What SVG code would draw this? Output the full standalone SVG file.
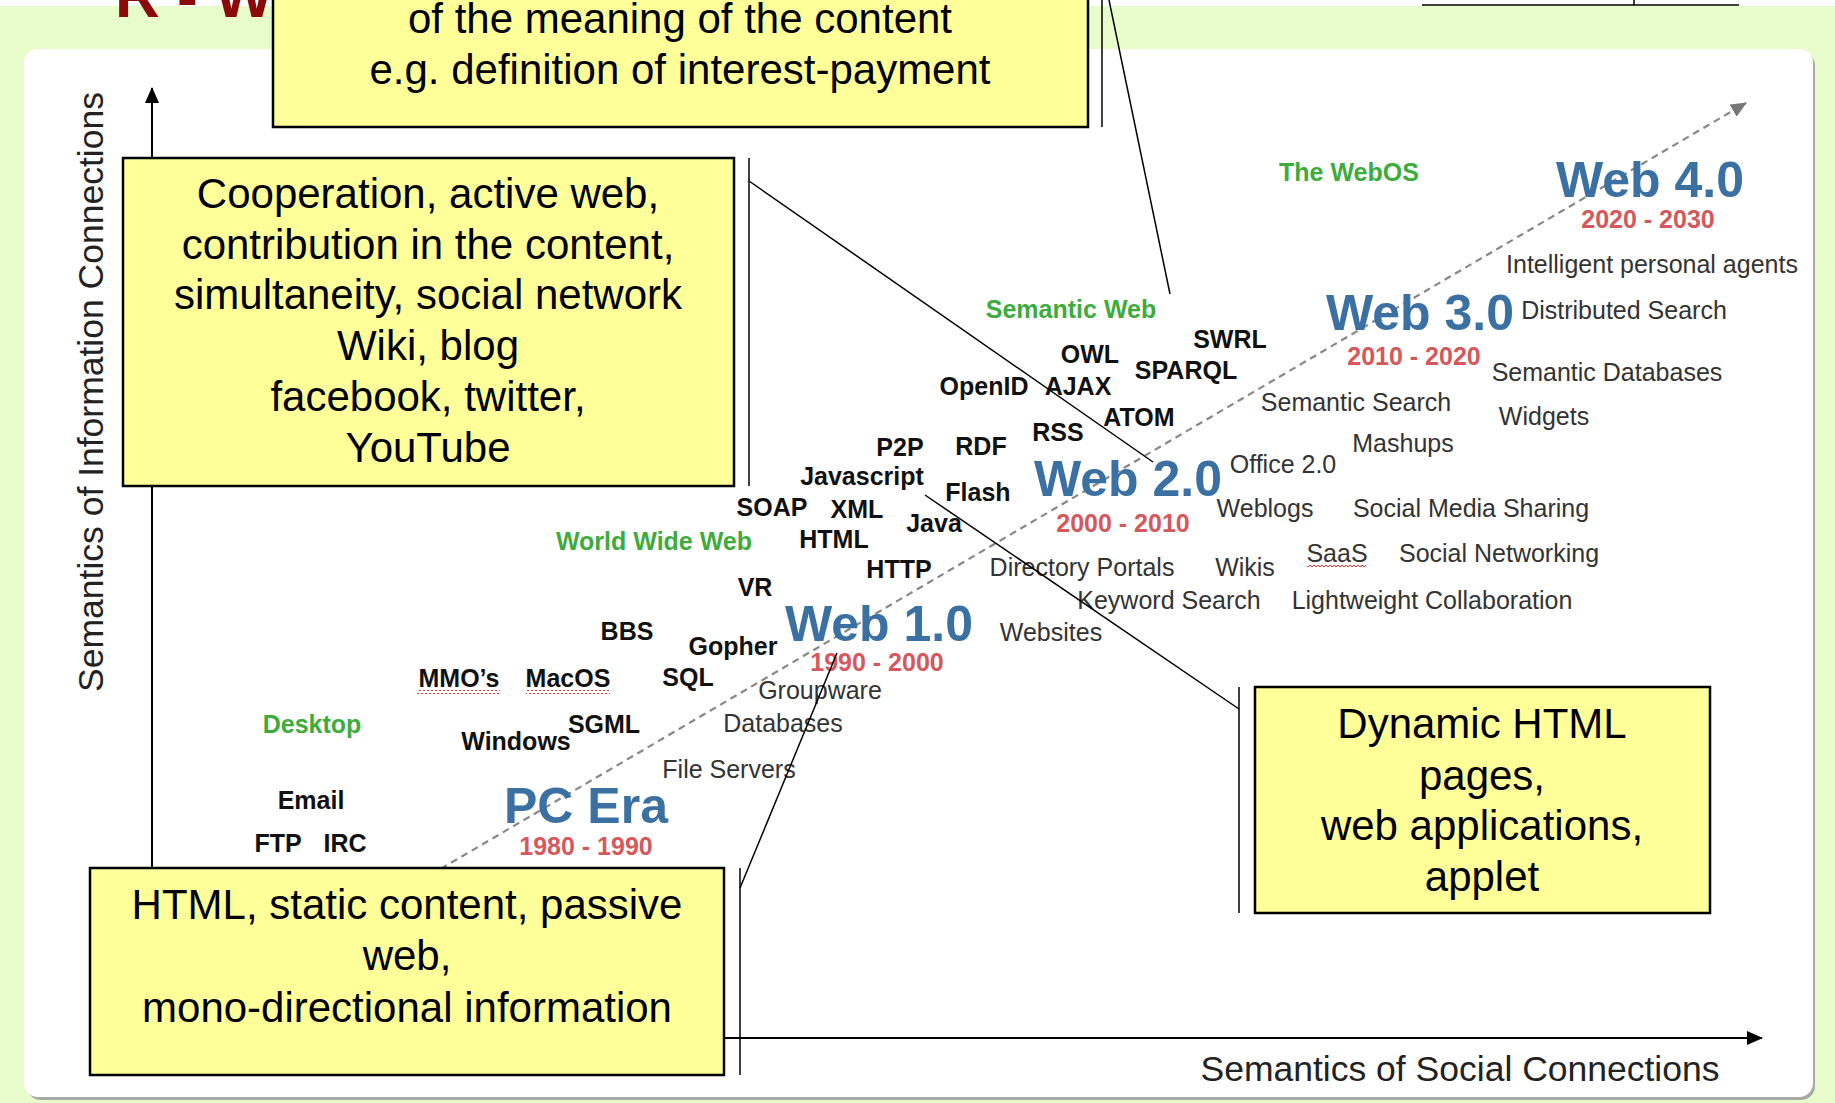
<svg xmlns="http://www.w3.org/2000/svg" width="1835" height="1103" viewBox="0 0 1835 1103">
  <style>
    .box{fill:#ffff99;stroke:#000;stroke-width:2.5}
    .call{font-family:"Liberation Sans",Arial,sans-serif;font-size:42px;fill:#000;text-anchor:middle}
    .lead{stroke:#000;stroke-width:1.5;fill:none}
    .axis{stroke:#000;stroke-width:2;fill:none}
    .lbl{font-family:"Liberation Sans",Arial,sans-serif;font-size:25px;text-anchor:middle}
    .era{font-weight:bold;font-size:50px;fill:#3b70a2}
    .yr{font-weight:bold;fill:#d4585c}
    .grn{font-weight:bold;fill:#3dac3d}
    .tech{font-weight:bold;fill:#111}
    .app{fill:#333}
  </style>
  <defs>
    <marker id="arrowBlack" markerUnits="userSpaceOnUse" markerWidth="16" markerHeight="14" viewBox="0 0 16 14" refX="15" refY="7" orient="auto">
      <path d="M0,0 L16,7 L0,14 z" fill="#000"/>
    </marker>
    <marker id="arrowGrey" markerUnits="userSpaceOnUse" markerWidth="16" markerHeight="14" viewBox="0 0 16 14" refX="15" refY="7" orient="auto">
      <path d="M0,0 L16,7 L0,14 z" fill="#777"/>
    </marker>
    <pattern id="wavy" patternUnits="userSpaceOnUse" width="4" height="4">
      <path d="M0,3 L2,1 L4,3" stroke="#d22" stroke-width="0.9" fill="none"/>
    </pattern>
  </defs>

  <!-- page background -->
  <rect width="1835" height="1103" fill="#e7fcca"/>
  <rect width="1835" height="6" fill="#fff"/>
  <line x1="1422" y1="5" x2="1739" y2="5" stroke="#000" stroke-width="1.5"/>
  <line x1="1634" y1="0" x2="1634" y2="5" stroke="#000" stroke-width="1.5"/>

  <!-- slide title, running off the top edge -->
  <text x="115" y="17" font-family="Liberation Sans, Arial, sans-serif" font-weight="bold" font-size="62" fill="#8b0a0a">R - W</text>

  <!-- chart panel -->
  <rect x="27" y="52" width="1788" height="1048" rx="14" fill="#a8a8a8"/>
  <rect x="24" y="49" width="1789" height="1048" rx="14" fill="#fff"/>

  <!-- axes and timeline -->
  <g id="axes">
    <line class="axis" x1="152" y1="1038" x2="152" y2="88" marker-end="url(#arrowBlack)"/>
    <line class="axis" x1="152" y1="1038" x2="1762" y2="1038" marker-end="url(#arrowBlack)"/>
    <line x1="420" y1="881" x2="1746" y2="103" stroke="#888" stroke-width="2.2" stroke-dasharray="7 5" marker-end="url(#arrowGrey)"/>
    <text x="103" y="392" transform="rotate(-90 103 392)" font-family="Liberation Sans, Arial, sans-serif" font-size="35.5" fill="#222" text-anchor="middle">Semantics of Information Connections</text>
    <text x="1460" y="1081" font-family="Liberation Sans, Arial, sans-serif" font-size="35.5" fill="#222" text-anchor="middle">Semantics of Social Connections</text>
  </g>

  <!-- eras -->
  <g id="eras" class="lbl">
    <text class="lbl era" x="1650" y="197">Web 4.0</text>
    <text class="lbl yr" x="1648" y="228">2020 - 2030</text>
    <text class="lbl era" x="1420" y="330">Web 3.0</text>
    <text class="lbl yr" x="1414" y="365">2010 - 2020</text>
    <text class="lbl era" x="1128" y="496">Web 2.0</text>
    <text class="lbl yr" x="1123" y="532">2000 - 2010</text>
    <text class="lbl era" x="879" y="641">Web 1.0</text>
    <text class="lbl yr" x="877" y="671">1990 - 2000</text>
    <text class="lbl era" x="586" y="823">PC Era</text>
    <text class="lbl yr" x="586" y="855">1980 - 1990</text>
  </g>

  <!-- phase names -->
  <g id="phases">
    <text class="lbl grn" x="1349" y="181">The WebOS</text>
    <text class="lbl grn" x="1071" y="318">Semantic Web</text>
    <text class="lbl grn" x="654" y="550">World Wide Web</text>
    <text class="lbl grn" x="312" y="733">Desktop</text>
  </g>

  <!-- technologies -->
  <g id="technologies">
    <text class="lbl tech" x="1230" y="348">SWRL</text>
    <text class="lbl tech" x="1090" y="363">OWL</text>
    <text class="lbl tech" x="1186" y="379">SPARQL</text>
    <text class="lbl tech" x="984" y="395">OpenID</text>
    <text class="lbl tech" x="1078" y="395">AJAX</text>
    <text class="lbl tech" x="1139" y="426">ATOM</text>
    <text class="lbl tech" x="1058" y="441">RSS</text>
    <text class="lbl tech" x="900" y="456">P2P</text>
    <text class="lbl tech" x="981" y="455">RDF</text>
    <text class="lbl tech" x="862" y="485">Javascript</text>
    <text class="lbl tech" x="978" y="501">Flash</text>
    <text class="lbl tech" x="772" y="516">SOAP</text>
    <text class="lbl tech" x="857" y="518">XML</text>
    <text class="lbl tech" x="934" y="532">Java</text>
    <text class="lbl tech" x="834" y="548">HTML</text>
    <text class="lbl tech" x="899" y="578">HTTP</text>
    <text class="lbl tech" x="755" y="596">VR</text>
    <text class="lbl tech" x="627" y="640">BBS</text>
    <text class="lbl tech" x="733" y="655">Gopher</text>
    <text class="lbl tech" x="459" y="687">MMO’s</text>
    <text class="lbl tech" x="568" y="687">MacOS</text>
    <text class="lbl tech" x="688" y="686">SQL</text>
    <text class="lbl tech" x="604" y="733">SGML</text>
    <text class="lbl tech" x="516" y="750">Windows</text>
    <text class="lbl tech" x="311" y="809">Email</text>
    <text class="lbl tech" x="278" y="852">FTP</text>
    <text class="lbl tech" x="345" y="852">IRC</text>
    <rect x="417" y="690" width="83" height="4" fill="url(#wavy)"/>
    <rect x="526" y="690" width="84" height="4" fill="url(#wavy)"/>
  </g>

  <!-- applications -->
  <g id="applications">
    <text class="lbl app" x="1652" y="273">Intelligent personal agents</text>
    <text class="lbl app" x="1624" y="319">Distributed Search</text>
    <text class="lbl app" x="1607" y="381">Semantic Databases</text>
    <text class="lbl app" x="1356" y="411">Semantic Search</text>
    <text class="lbl app" x="1544" y="425">Widgets</text>
    <text class="lbl app" x="1403" y="452">Mashups</text>
    <text class="lbl app" x="1283" y="473">Office 2.0</text>
    <text class="lbl app" x="1265" y="517">Weblogs</text>
    <text class="lbl app" x="1471" y="517">Social Media Sharing</text>
    <text class="lbl app" x="1337" y="562">SaaS</text>
    <text class="lbl app" x="1499" y="562">Social Networking</text>
    <text class="lbl app" x="1082" y="576">Directory Portals</text>
    <text class="lbl app" x="1245" y="576">Wikis</text>
    <text class="lbl app" x="1169" y="609">Keyword Search</text>
    <text class="lbl app" x="1432" y="609">Lightweight Collaboration</text>
    <text class="lbl app" x="1051" y="641">Websites</text>
    <text class="lbl app" x="820" y="699">Groupware</text>
    <text class="lbl app" x="783" y="732">Databases</text>
    <text class="lbl app" x="729" y="778">File Servers</text>
    <rect x="1307" y="565" width="59" height="4" fill="url(#wavy)"/>
  </g>

  <!-- callout leaders -->
  <g id="connectors">
    <line class="lead" x1="1102" y1="0" x2="1102" y2="127"/>
    <line class="lead" x1="1109" y1="0" x2="1170" y2="294"/>
    <line class="lead" x1="749" y1="158" x2="749" y2="486"/>
    <line class="lead" x1="749" y1="181" x2="1153" y2="462"/>
    <line class="lead" x1="1239" y1="687" x2="1239" y2="913"/>
    <line class="lead" x1="1239" y1="709" x2="925" y2="495"/>
    <line class="lead" x1="740" y1="868" x2="740" y2="1075"/>
    <line class="lead" x1="740" y1="888" x2="837" y2="653"/>
  </g>

  <!-- callouts -->
  <g id="callout-semantic">
    <rect class="box" x="273" y="-10" width="815" height="137"/>
    <text class="call" x="680" y="33">of the meaning of the content</text>
    <text class="call" x="680" y="84">e.g. definition of interest-payment</text>
  </g>
  <g id="callout-web2">
    <rect class="box" x="123" y="158" width="611" height="328"/>
    <text class="call" x="428" y="208">Cooperation, active web,</text>
    <text class="call" x="428" y="259">contribution in the content,</text>
    <text class="call" x="428" y="309">simultaneity, social network</text>
    <text class="call" x="428" y="360">Wiki, blog</text>
    <text class="call" x="428" y="411">facebook, twitter,</text>
    <text class="call" x="428" y="462">YouTube</text>
  </g>
  <g id="callout-dynamic">
    <rect class="box" x="1255" y="687" width="455" height="226"/>
    <text class="call" x="1482" y="738">Dynamic HTML</text>
    <text class="call" x="1482" y="790">pages,</text>
    <text class="call" x="1482" y="840">web applications,</text>
    <text class="call" x="1482" y="891">applet</text>
  </g>
  <g id="callout-web1">
    <rect class="box" x="90" y="868" width="634" height="207"/>
    <text class="call" x="407" y="919">HTML, static content, passive</text>
    <text class="call" x="407" y="970">web,</text>
    <text class="call" x="407" y="1022">mono-directional information</text>
  </g>
</svg>
